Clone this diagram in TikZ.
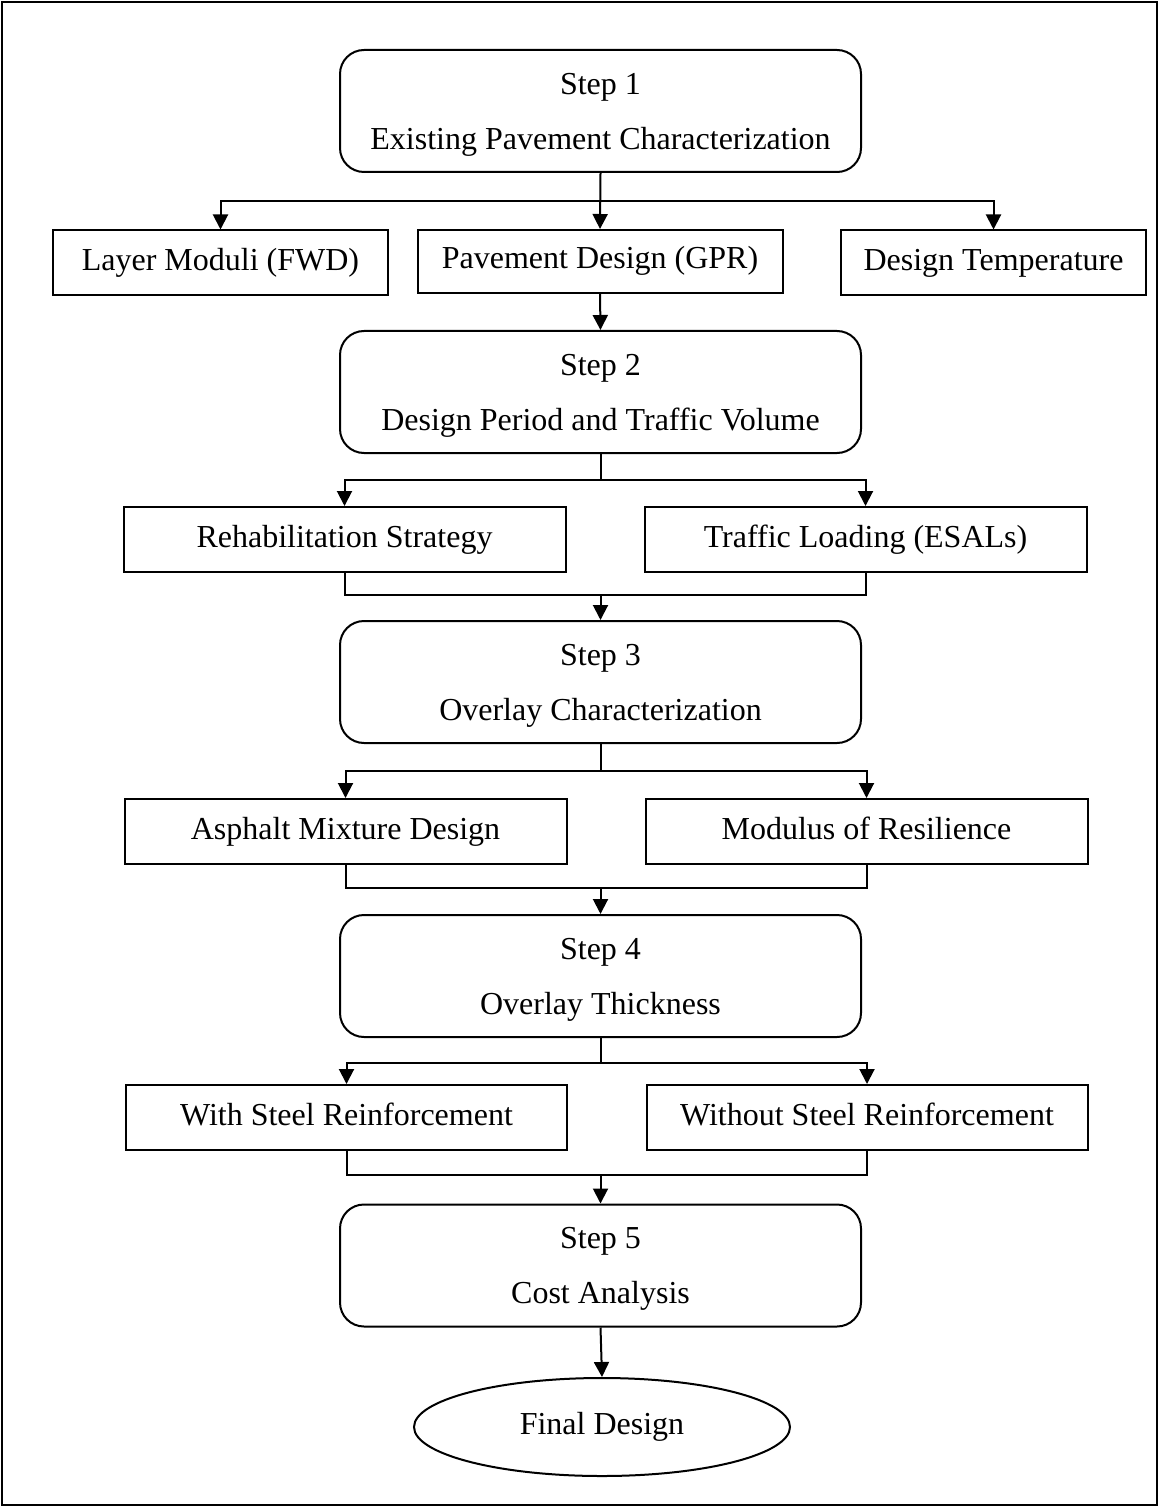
\documentclass[tikz,border=0pt]{standalone}
\usepackage{fontspec}
\setmainfont{Liberation Serif}
\usetikzlibrary{arrows.meta,shapes.geometric}

\begin{document}
\begin{tikzpicture}[x=0.5pt,y=-0.5pt,line width=1pt,
  every node/.style={font=\fontsize{16pt}{27.5pt}\selectfont},
  stepbox/.style={draw,rounded corners=12pt,align=center,text depth=0pt,minimum width=260.5pt,minimum height=61pt},
  itembox/.style={draw,text height=11pt,text depth=3.5pt,minimum height=32.5pt},
  finalbox/.style={draw,ellipse,minimum width=188pt,minimum height=49pt},
  arr/.style={-{Triangle[length=7.5pt,width=7.5pt]}}]
\useasboundingbox (0,0) rectangle (1160,1508);
\draw (2,2) rectangle (1157,1505);
% steps
\node (s1) [stepbox] at (600.5,111) {Step 1\\Existing Pavement Characterization};
\node (s2) [stepbox] at (600.5,392) {Step 2\\Design Period and Traffic Volume};
\node (s3) [stepbox] at (600.5,682) {Step 3\\Overlay Characterization};
\node (s4) [stepbox] at (600.5,976) {Step 4\\Overlay Thickness};
\node (s5) [stepbox] at (600.5,1265.5) {Step 5\\Cost Analysis};
\node (fd) [finalbox] at (602,1427) {Final Design};
% inputs
\node (lm) [itembox,minimum width=167.5pt] at (220.5,263) {Layer Moduli (FWD)};
\node (pd) [itembox,minimum width=182.5pt,minimum height=31.5pt] at (600,261.5) {Pavement Design (GPR)};
\node (dt) [itembox,minimum width=152.5pt] at (993.5,263) {Design Temperature};
\node (rs) [itembox,minimum width=221pt] at (344.5,539.5) {Rehabilitation Strategy};
\node (tl) [itembox,minimum width=221pt] at (865.5,539.5) {Traffic Loading (ESALs)};
\node (am) [itembox,minimum width=221pt] at (345.5,831.5) {Asphalt Mixture Design};
\node (mr) [itembox,minimum width=221pt] at (866.5,831.5) {Modulus of Resilience};
\node (ws) [itembox,minimum width=220.5pt] at (346.5,1117.5) {With Steel Reinforcement};
\node (wo) [itembox,minimum width=220.5pt] at (867,1117.5) {Without Steel Reinforcement};
% branch and join points
\coordinate (b1) at (600.5,201);
\coordinate (b2) at (600.5,480);
\coordinate (j2) at (600.5,595);
\coordinate (b3) at (600.5,771);
\coordinate (j3) at (600.5,888);
\coordinate (b4) at (600.5,1063);
\coordinate (j4) at (600.5,1175);
% connectors
\draw[arr] (s1.south) -- (pd.north);
\draw[arr] (b1) -| (lm.north);
\draw[arr] (b1) -| (dt.north);
\draw[arr] (pd.south) -- (s2.north);
\draw (s2.south) -- (b2);
\draw[arr] (b2) -| (rs.north);
\draw[arr] (b2) -| (tl.north);
\draw (rs.south) |- (j2) -| (tl.south);
\draw[arr] (j2) -- (s3.north);
\draw (s3.south) -- (b3);
\draw[arr] (b3) -| (am.north);
\draw[arr] (b3) -| (mr.north);
\draw (am.south) |- (j3) -| (mr.south);
\draw[arr] (j3) -- (s4.north);
\draw (s4.south) -- (b4);
\draw[arr] (b4) -| (ws.north);
\draw[arr] (b4) -| (wo.north);
\draw (ws.south) |- (j4) -| (wo.south);
\draw[arr] (j4) -- (s5.north);
\draw[arr] (s5.south) -- (fd.north);
\end{tikzpicture}
\end{document}
